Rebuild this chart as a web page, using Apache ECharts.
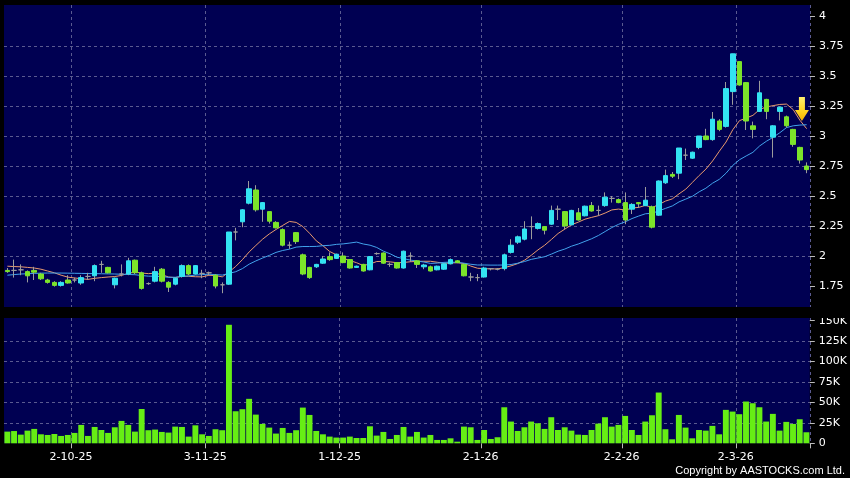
<!DOCTYPE html>
<html><head><meta charset="utf-8">
<script src="https://cdn.jsdelivr.net/npm/echarts@6/dist/echarts.min.js"></script>
<style>html,body{margin:0;padding:0;background:#000;}#c{width:850px;height:478px;}</style>
</head><body><div id="c"></div>
<script>
const dates = ['17-9-25','18-9-25','19-9-25','22-9-25','23-9-25','24-9-25','25-9-25','26-9-25','29-9-25','30-9-25',
'2-10-25','3-10-25','6-10-25','8-10-25','9-10-25','10-10-25','13-10-25','14-10-25','15-10-25','16-10-25','17-10-25','20-10-25','21-10-25','22-10-25','23-10-25','24-10-25','27-10-25','28-10-25','30-10-25','31-10-25',
'3-11-25','4-11-25','5-11-25','6-11-25','7-11-25','10-11-25','11-11-25','12-11-25','13-11-25','14-11-25','17-11-25','18-11-25','19-11-25','20-11-25','21-11-25','24-11-25','25-11-25','26-11-25','27-11-25','28-11-25',
'1-12-25','2-12-25','3-12-25','4-12-25','5-12-25','8-12-25','9-12-25','10-12-25','11-12-25','12-12-25','15-12-25','16-12-25','17-12-25','18-12-25','19-12-25','22-12-25','23-12-25','24-12-25','29-12-25','30-12-25','31-12-25',
'2-1-26','5-1-26','6-1-26','7-1-26','8-1-26','9-1-26','12-1-26','13-1-26','14-1-26','15-1-26','16-1-26','19-1-26','20-1-26','21-1-26','22-1-26','23-1-26','26-1-26','27-1-26','28-1-26','29-1-26','30-1-26',
'2-2-26','3-2-26','4-2-26','5-2-26','6-2-26','9-2-26','10-2-26','11-2-26','12-2-26','13-2-26','16-2-26','20-2-26','23-2-26','24-2-26','25-2-26','26-2-26','27-2-26',
'2-3-26','3-3-26','4-3-26','5-3-26','6-3-26','9-3-26','10-3-26','11-3-26','12-3-26','13-3-26','16-3-26'];

const opens = [1.88,1.88,1.885,1.87,1.88,1.85,1.80,1.78,1.755,1.80,
1.80,1.775,1.83,1.835,1.93,1.905,1.76,1.85,1.85,1.965,
1.86,1.77,1.79,1.89,1.78,1.765,1.83,1.92,1.85,1.855,
1.86,1.84,1.76,1.765,2.20,2.285,2.44,2.55,2.39,2.37,
2.28,2.22,2.09,2.195,2.01,1.905,1.91,1.94,1.995,1.98,
2.0,1.97,1.905,1.93,1.885,2.02,2.025,1.93,1.945,1.90,
2.0,1.96,1.91,1.91,1.885,1.89,1.935,1.96,1.93,1.825,
1.82,1.825,1.895,1.89,1.895,2.03,2.115,2.14,2.245,2.23,
2.245,2.265,2.39,2.37,2.26,2.36,2.335,2.42,2.38,2.42,
2.48,2.47,2.445,2.39,2.445,2.42,2.41,2.34,2.61,2.68,
2.69,2.84,2.815,2.905,3.0,2.97,3.125,3.08,3.37,3.62,
3.445,3.085,3.205,3.305,2.99,3.205,3.16,3.055,2.905,2.75];

const closes = [1.87,1.88,1.885,1.835,1.865,1.81,1.78,1.755,1.78,1.775,
1.80,1.82,1.83,1.92,1.93,1.86,1.815,1.85,1.96,1.86,
1.73,1.77,1.87,1.79,1.74,1.815,1.92,1.85,1.92,1.855,
1.86,1.75,1.76,2.20,2.20,2.385,2.56,2.385,2.445,2.29,
2.235,2.09,2.09,2.12,1.85,1.82,1.93,1.975,1.97,2.015,
1.945,1.90,1.915,1.875,1.995,2.02,1.94,1.93,1.90,2.04,
2.0,1.93,1.925,1.875,1.915,1.935,1.97,1.945,1.835,1.825,
1.82,1.90,1.895,1.89,2.01,2.09,2.16,2.225,2.245,2.27,
2.215,2.38,2.39,2.25,2.38,2.30,2.415,2.375,2.38,2.49,
2.48,2.445,2.30,2.43,2.435,2.465,2.24,2.625,2.67,2.665,
2.90,2.84,2.865,3.0,2.97,3.14,3.055,3.395,3.685,3.425,
3.125,3.055,3.36,3.205,3.085,3.24,3.085,2.93,2.80,2.72];

const lows = [1.86,1.82,1.84,1.78,1.80,1.80,1.77,1.745,1.745,1.77,
1.78,1.76,1.80,1.79,1.86,1.855,1.73,1.83,1.84,1.85,
1.72,1.76,1.78,1.78,1.70,1.755,1.82,1.84,1.845,1.815,
1.84,1.73,1.69,1.76,2.13,2.24,2.43,2.37,2.285,2.27,
2.23,2.08,2.06,2.10,1.84,1.81,1.90,1.935,1.96,1.975,
1.94,1.895,1.90,1.87,1.88,2.01,1.935,1.91,1.895,1.895,
1.95,1.90,1.89,1.87,1.88,1.885,1.93,1.94,1.83,1.79,
1.79,1.82,1.88,1.88,1.88,2.02,2.10,2.13,2.14,2.22,
2.18,2.26,2.30,2.22,2.255,2.295,2.33,2.37,2.335,2.41,
2.445,2.44,2.265,2.35,2.40,2.415,2.23,2.335,2.60,2.65,
2.64,2.80,2.81,2.89,2.965,2.96,3.04,3.07,3.26,3.42,
3.05,2.98,3.20,3.14,2.82,3.13,3.07,2.91,2.77,2.69];

const highs = [1.90,1.97,1.93,1.88,1.91,1.86,1.81,1.79,1.79,1.84,
1.82,1.84,1.86,1.93,1.96,1.91,1.82,1.93,1.985,1.97,
1.87,1.78,1.91,1.90,1.79,1.82,1.93,1.93,1.925,1.885,
1.87,1.85,1.78,2.20,2.235,2.39,2.625,2.59,2.45,2.37,
2.29,2.23,2.12,2.20,2.02,1.91,1.935,2.0,2.03,2.02,
2.03,1.975,1.92,1.935,2.0,2.03,2.03,1.945,1.95,2.045,
2.03,1.965,1.935,1.92,1.92,1.94,1.98,1.965,1.935,1.86,
1.85,1.91,1.90,1.90,2.02,2.14,2.17,2.29,2.33,2.28,
2.25,2.42,2.42,2.375,2.385,2.40,2.42,2.45,2.42,2.53,
2.50,2.48,2.53,2.44,2.45,2.575,2.42,2.63,2.72,2.70,
2.90,2.895,2.87,3.0,3.06,3.2,3.14,3.45,3.685,3.62,
3.45,3.12,3.46,3.31,3.09,3.245,3.17,3.06,2.91,2.78];

const ma10 = [1.915,1.912,1.91,1.905,1.9,1.89,1.875,1.86,1.84,1.824,
1.817,1.811,1.805,1.814,1.82,1.825,1.829,1.838,1.856,1.865,
1.858,1.853,1.857,1.844,1.825,1.82,1.831,1.831,1.827,1.826,
1.839,1.837,1.826,1.867,1.913,1.97,2.034,2.088,2.14,2.184,
2.221,2.255,2.288,2.28,2.245,2.189,2.126,2.085,2.037,2.01,
1.981,1.962,1.944,1.92,1.934,1.954,1.955,1.951,1.944,1.946,
1.952,1.955,1.956,1.956,1.948,1.939,1.942,1.944,1.937,1.916,
1.898,1.895,1.892,1.893,1.903,1.918,1.937,1.965,2.006,2.051,
2.09,2.138,2.188,2.224,2.261,2.282,2.307,2.322,2.336,2.358,
2.384,2.391,2.382,2.4,2.405,2.422,2.404,2.429,2.458,2.476,
2.518,2.557,2.614,2.671,2.724,2.792,2.873,2.95,3.052,3.128,
3.15,3.172,3.221,3.242,3.253,3.263,3.266,3.22,3.131,3.061];

const ma20 = [1.84,1.845,1.85,1.852,1.855,1.857,1.858,1.858,1.858,1.857,
1.856,1.855,1.854,1.853,1.852,1.851,1.85,1.848,1.846,1.844,
1.837,1.832,1.831,1.829,1.822,1.823,1.83,1.834,1.841,1.845,
1.848,1.845,1.841,1.855,1.869,1.895,1.932,1.959,1.983,2.005,
2.03,2.046,2.057,2.074,2.079,2.079,2.08,2.086,2.089,2.097,
2.101,2.108,2.116,2.1,2.09,2.071,2.04,2.018,1.99,1.978,
1.966,1.958,1.95,1.938,1.941,1.947,1.949,1.947,1.94,1.931,
1.925,1.925,1.924,1.924,1.925,1.929,1.94,1.954,1.972,1.983,
1.994,2.016,2.04,2.058,2.082,2.1,2.122,2.144,2.171,2.204,
2.237,2.264,2.285,2.312,2.333,2.352,2.356,2.376,2.397,2.417,
2.451,2.474,2.498,2.535,2.565,2.607,2.639,2.69,2.755,2.802,
2.834,2.864,2.917,2.956,2.989,3.027,3.07,3.085,3.091,3.094];

const volumes = [14300,15000,10600,15500,17600,11000,10200,11400,9000,10200,
12700,22500,9000,20000,16300,12700,19600,27400,22500,14300,
42000,16000,16800,13900,13100,20400,20000,8200,22000,11000,
9000,17200,16000,145000,39200,41700,54400,35100,23700,19200,
11900,18800,12700,16000,43700,34700,15100,11000,8200,7000,
7000,8200,6500,6500,20800,9400,13900,5300,10200,20000,
8200,13900,7000,10200,4100,4100,6100,2000,20400,19600,
4100,16300,5300,7400,44100,26600,15100,19600,26600,24500,
17600,31900,16300,19600,15500,10600,10200,16300,24100,31900,
20400,22500,33500,16300,10200,26600,34300,62100,17200,4900,
34700,19200,6100,16300,15500,21300,11000,40900,38800,35600,
51100,49000,44100,26600,36000,15500,26200,23700,29400,13500];

const monthLabels = ['2-10-25','3-11-25','1-12-25','2-1-26','2-2-26','2-3-26'];
const priceTicks = [1.75,2,2.25,2.5,2.75,3,3.25,3.5,3.75,4];
const volTicks = [0,25000,50000,75000,100000,125000,150000];
const signalPoint = ['13-3-26', 3.225];

const NAVY = '#000052';
const UP = '#33e3f2';
const DOWN = '#7ce42a';
const WICK = '#9c9c9c';
const GRIDLINE = '#5a5a90';
const FONT = 'DejaVu Sans';

const monthSet = new Set(monthLabels);
const isMonth = (i) => monthSet.has(dates[i]);

const wickData = dates.map((d, i) => [opens[i], closes[i], lows[i], highs[i]]);
const bodyData = dates.map((d, i) => {
  const o = opens[i], c = closes[i];
  const item = { value: [o, c, Math.min(o, c), Math.max(o, c)] };
  if (o === c) {
    item.itemStyle = { color: WICK, color0: WICK, borderColor: WICK, borderColor0: WICK, borderColorDoji: WICK };
  }
  return item;
});

const chart = echarts.init(document.getElementById('c'), null, { renderer: 'canvas' });

const splitLineStyle = { color: GRIDLINE, type: [3, 3], width: 1 };

chart.setOption({
  animation: false,
  backgroundColor: '#000',
  grid: [
    { left: 4, right: 40, top: 5, height: 311, show: true, backgroundColor: NAVY, borderWidth: 0 },
    { left: 4, right: 40, top: 318, height: 125.3, show: true, backgroundColor: NAVY, borderWidth: 0 }
  ],
  xAxis: [
    {
      type: 'category', gridIndex: 0, data: dates, boundaryGap: true,
      axisLine: { show: false }, axisTick: { show: false }, axisLabel: { show: false },
      splitLine: { show: true, interval: (i) => isMonth(i), lineStyle: splitLineStyle }
    },
    {
      type: 'category', gridIndex: 1, data: dates, boundaryGap: true,
      axisLine: { show: false },
      axisTick: { show: true, interval: (i) => isMonth(i), length: 5, lineStyle: { color: '#bbbbbb' } },
      axisLabel: {
        show: true, interval: (i) => isMonth(i), color: '#ffffff', fontSize: 11, fontFamily: FONT,
        margin: 8, padding: [0, 7, 0, 0]
      },
      splitLine: { show: true, interval: (i) => isMonth(i), lineStyle: splitLineStyle }
    }
  ],
  yAxis: [
    {
      type: 'value', gridIndex: 0, position: 'right', min: 1.5, max: 4.0917, interval: 0.25,
      axisLine: { show: false },
      axisTick: { show: true, length: 5, customValues: priceTicks, lineStyle: { color: '#bbbbbb' } },
      axisLabel: { color: '#ffffff', fontSize: 11, fontFamily: FONT, margin: 9, customValues: priceTicks },
      splitLine: { show: true, lineStyle: splitLineStyle, showMinLine: false, showMaxLine: false }
    },
    {
      type: 'value', gridIndex: 1, position: 'right', min: 0, max: 153300, interval: 25000,
      axisLine: { show: false },
      axisTick: { show: true, length: 5, customValues: volTicks, lineStyle: { color: '#bbbbbb' } },
      axisLabel: {
        color: '#ffffff', fontSize: 11, fontFamily: FONT, margin: 9, customValues: volTicks,
        formatter: (v) => (v === 0 ? '0' : (v / 1000) + 'K')
      },
      splitLine: { show: true, lineStyle: splitLineStyle, showMinLine: false, showMaxLine: false }
    }
  ],
  series: [
    {
      name: 'MA10', type: 'line', xAxisIndex: 0, yAxisIndex: 0, data: ma10,
      symbol: 'none', lineStyle: { color: '#e99a6e', width: 1 }, z: 2
    },
    {
      name: 'MA20', type: 'line', xAxisIndex: 0, yAxisIndex: 0, data: ma20,
      symbol: 'none', lineStyle: { color: '#42a2ec', width: 1 }, z: 2
    },
    {
      name: 'wick', type: 'candlestick', xAxisIndex: 0, yAxisIndex: 0, data: wickData,
      barWidth: 1,
      itemStyle: { color: WICK, color0: WICK, borderColor: WICK, borderColor0: WICK, borderColorDoji: WICK, borderWidth: 1 },
      z: 3
    },
    {
      name: 'body', type: 'candlestick', xAxisIndex: 0, yAxisIndex: 0, data: bodyData,
      barWidth: 5,
      itemStyle: { color: UP, color0: DOWN, borderColor: UP, borderColor0: DOWN, borderColorDoji: WICK, borderWidth: 1 },
      z: 4
    },
    {
      name: 'signal', type: 'scatter', xAxisIndex: 0, yAxisIndex: 0, data: [signalPoint],
      symbol: 'path://M4,0 L10,0 L10,13 L14,13 L7,24 L0,13 L4,13 Z',
      symbolSize: [14, 24], symbolOffset: [2, 0],
      itemStyle: {
        opacity: 1,
        color: new echarts.graphic.LinearGradient(0, 0, 0, 1, [
          { offset: 0, color: '#fff070' }, { offset: 0.6, color: '#ffd21e' }, { offset: 1, color: '#f5b000' }
        ])
      },
      z: 6
    },
    {
      name: 'volume', type: 'bar', xAxisIndex: 1, yAxisIndex: 1, data: volumes,
      barWidth: '88%',
      itemStyle: { color: '#66ee14' }
    }
  ],
  graphic: [
    { type: 'rect', z: 100, shape: { x: 0, y: 307, width: 850, height: 11 }, style: { fill: '#000' } },
    { type: 'rect', z: 100, shape: { x: 0, y: 0, width: 850, height: 5 }, style: { fill: '#000' } },
    {
      type: 'text', z: 101, right: 5, bottom: 2,
      style: { text: 'Copyright by AASTOCKS.com Ltd.', fill: '#ffffff', font: '11px "Liberation Sans"' }
    }
  ]
});
</script>
</body></html>
